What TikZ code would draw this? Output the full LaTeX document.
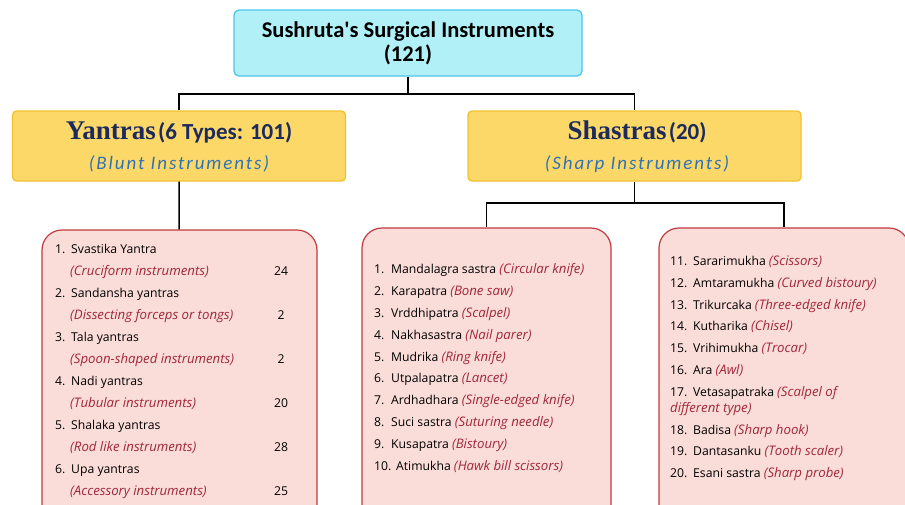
\documentclass[tikz,border=0pt]{standalone}
\usepackage{fontspec}
\setmainfont{Carlito}
\newfontfamily\titlefont{Carlito}[Ligatures=TeXOff]
\newfontfamily\headserif{Liberation Serif}
\newfontfamily\listfont{Open Sans}
\definecolor{titlefill}{HTML}{B2F0F8}
\definecolor{titleline}{HTML}{4EC6EA}
\definecolor{groupfill}{HTML}{FCD868}
\definecolor{groupline}{HTML}{F2C12E}
\definecolor{listfill}{HTML}{FADCD8}
\definecolor{listline}{HTML}{C23A3E}
\definecolor{navy}{HTML}{1D2B5C}
\definecolor{bluetext}{HTML}{2F72B6}
\definecolor{desctext}{HTML}{A0283A}
\newcommand{\desc}[1]{\textcolor{desctext}{\itshape\fontsize{13.2}{15}\selectfont #1}}

\begin{document}
\begin{tikzpicture}[x=1pt, y=-1pt,
    topbox/.style={draw=titleline, fill=titlefill, line width=1.3pt, rounded corners=5pt,
      minimum width=348pt, minimum height=66pt, align=center, font=\titlefont\bfseries\fontsize{22.5}{26}\selectfont},
    groupbox/.style={draw=groupline, fill=groupfill, line width=1.3pt, rounded corners=4pt,
      minimum width=333pt, minimum height=70pt},
    subtitle/.style={anchor=base, bluetext, font=\itshape\fontsize{19}{22}\selectfont\addfontfeature{LetterSpace=10}},
    listbox/.style={draw=listline, fill=listfill, line width=1.2pt, rounded corners=20pt},
    item/.style={anchor=base west, inner sep=0pt, font=\listfont\fontsize{12.2}{14}\selectfont},
    count/.style={anchor=base, inner sep=0pt, font=\listfont\fontsize{12.2}{14}\selectfont},
    link/.style={line width=1.4pt}]
    \clip (0,0) rectangle (905,504);
    \node[topbox] (top) at (408,43) {Sushruta's Surgical Instruments\\[-2pt](121)};
    \node[groupbox] (yan) at (179,146) {};
    \node[groupbox] (sha) at (634.5,146) {};
    \node[anchor=base, navy] (yant) at (179,139)
      {{\headserif\bfseries\fontsize{27}{30}\selectfont Yantras} {\bfseries\fontsize{23}{26}\selectfont(6 Types: 101)}};
    \node[subtitle] (yans) at (179,169) {(Blunt Instruments)};
    \node[anchor=base, navy] (shat) at (637,139)
      {{\headserif\bfseries\fontsize{27}{30}\selectfont Shastras} {\bfseries\fontsize{23}{26}\selectfont(20)}};
    \node[subtitle] (shas) at (637,169) {(Sharp Instruments)};

    \node[listbox, minimum width=275pt, minimum height=300pt] (lbox) at (179.5,380) {};
    \node[listbox, minimum width=249pt, minimum height=302pt] (mbox) at (486.5,379) {};
    \node[listbox, minimum width=250pt, minimum height=302pt] (rbox) at (784,379) {};

    \coordinate (tsplit) at (408,94);
    \coordinate (ssplit) at (634.5,203);
    \draw[link] (top) -- (tsplit) -| (yan);
    \draw[link] (tsplit) -| (sha);
    \draw[link] (yan) -- (lbox);
    \draw[link] (sha) -- (ssplit) -| (mbox);
    \draw[link] (ssplit) -| (rbox);

    % blunt instruments
    \foreach \nm/\ds/\cnt [count=\i] in {Svastika Yantra/Cruciform instruments/24,
        Sandansha yantras/Dissecting forceps or tongs/2, Tala yantras/Spoon-shaped instruments/2,
        Nadi yantras/Tubular instruments/20, Shalaka yantras/Rod like instruments/28,
        Upa yantras/Accessory instruments/25}
      {
      \node[item] (ln\i) at (55,209+44*\i) {\makebox[16pt][l]{\i.}\nm};
      \node[item] (ld\i) at (70,231+44*\i) {\desc{(\ds)}};
      \node[count] (lc\i) at (281,231+44*\i) {\cnt};
      }

    % sharp instruments 1-10
    \foreach \nm/\ds [count=\i] in {Mandalagra sastra/Circular knife, Karapatra/Bone saw,
        Vrddhipatra/Scalpel, Nakhasastra/Nail parer, Mudrika/Ring knife, Utpalapatra/Lancet,
        Ardhadhara/Single-edged knife, Suci sastra/Suturing needle, Kusapatra/Bistoury,
        Atimukha/Hawk bill scissors}
      \node[item] (m\i) at (374,252+21.8*\i) {\makebox[\ifnum\i<10 17pt\else 22pt\fi][l]{\i.}\nm\ \desc{(\ds)}};

    % sharp instruments 11-20
    \foreach \n/\nm/\ds/\yy in {11/Sararimukha/Scissors/265, 12/Amtaramukha/Curved bistoury/287,
        13/Trikurcaka/Three-edged knife/309, 14/Kutharika/Chisel/330, 15/Vrihimukha/Trocar/352,
        16/Ara/Awl/374, 17/Vetasapatraka/Scalpel of/396, 18/Badisa/Sharp hook/434,
        19/Dantasanku/Tooth scaler/455, 20/Esani sastra/Sharp probe/477}
      \node[item] (r\n) at (670,\yy) {\makebox[23pt][l]{\n.}\nm\ \desc{\ifnum\n=17 (\ds\else(\ds)\fi}};
    \node[item] (r17b) at (670,412) {\desc{different type)}};
\end{tikzpicture}
\end{document}
